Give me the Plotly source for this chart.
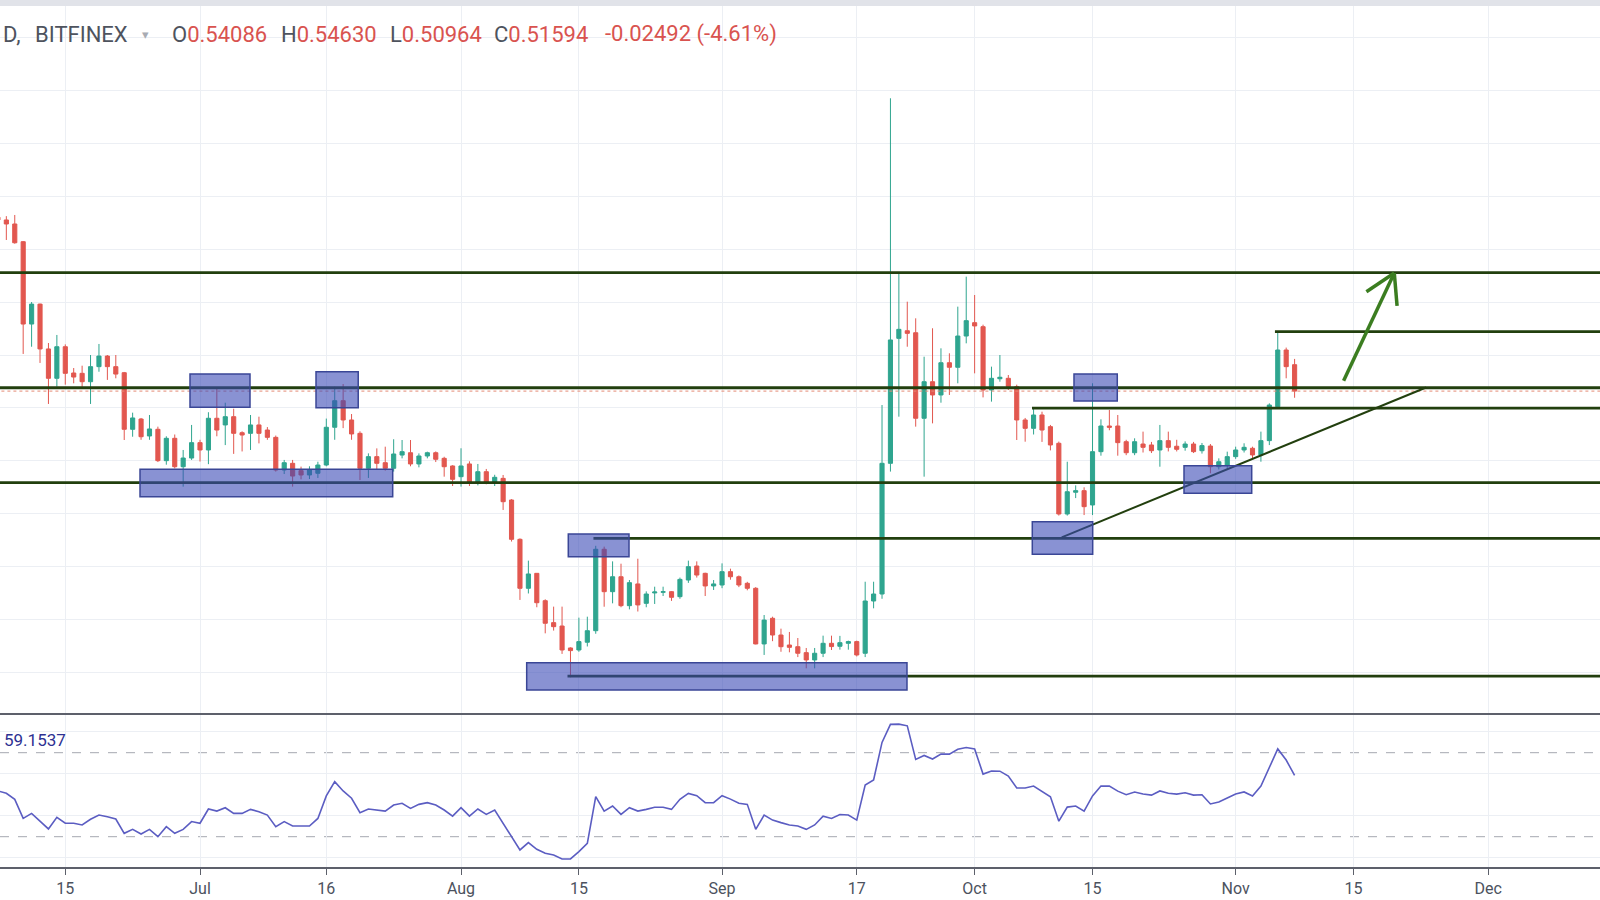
import pandas as pd
import plotly.graph_objects as go

# ---------------- data (daily XRP/USD, Bitfinex) ----------------
dates = pd.date_range("2018-06-07", "2018-11-08", freq="D")

open_ = [
    # Jun 7-30
    0.6800, 0.6774, 0.6736, 0.6569, 0.5792, 0.5980, 0.5557, 0.5280, 0.5578, 0.5330, 0.5327, 0.5248,
    0.5390, 0.5490, 0.5390, 0.5333, 0.4799, 0.4896, 0.4736, 0.4799, 0.4503, 0.4714, 0.4446, 0.4528,
    # Jul
    0.4673, 0.4604, 0.4903, 0.4840, 0.4918, 0.4767, 0.4761, 0.4840, 0.4792, 0.4723, 0.4415, 0.4478,
    0.4409, 0.4368, 0.4384, 0.4462, 0.4818, 0.5069, 0.4887, 0.4761, 0.4431, 0.4541, 0.4484, 0.4431,
    0.4556, 0.4578, 0.4472, 0.4547, 0.4578, 0.4525, 0.4453,
    # Aug
    0.4352, 0.4472, 0.4295, 0.4399, 0.4290, 0.4336, 0.4132, 0.3761, 0.3299, 0.3440, 0.3182, 0.2975,
    0.2943, 0.2736, 0.2717, 0.2790, 0.2899, 0.3667, 0.3267, 0.3408, 0.3135, 0.3340, 0.3157, 0.3255,
    0.3261, 0.3267, 0.3220, 0.3377, 0.3509, 0.3440, 0.3321,
    # Sep
    0.3330, 0.3456, 0.3408, 0.3346, 0.3299, 0.2774, 0.3016, 0.2858, 0.2764, 0.2748, 0.2692, 0.2623,
    0.2686, 0.2780, 0.2752, 0.2780, 0.2796, 0.2686, 0.3179, 0.3245, 0.4478, 0.5657, 0.5729, 0.5710,
    0.4903, 0.5248, 0.5123, 0.5427, 0.5384, 0.5679,
    # Oct
    0.5805, 0.5767, 0.5170, 0.5276, 0.5280, 0.5201, 0.4887, 0.4808, 0.4934, 0.4824, 0.4667, 0.4000,
    0.4205, 0.4220, 0.4085, 0.4588, 0.4830, 0.4830, 0.4682, 0.4578, 0.4660, 0.4651, 0.4604, 0.4692,
    0.4639, 0.4629, 0.4660, 0.4597, 0.4641, 0.4446, 0.4462,
    # Nov 1-8
    0.4541, 0.4604, 0.4620, 0.4557, 0.4692, 0.5012, 0.5547, 0.54086,
]

high = [
    0.6850, 0.6810, 0.6821, 0.6575, 0.6000, 0.5985, 0.5613, 0.5689, 0.5600, 0.5377, 0.5399, 0.5500,
    0.5604, 0.5500, 0.5500, 0.5340, 0.4956, 0.4906, 0.4934, 0.4824, 0.4733, 0.4750, 0.4604, 0.4840,
    0.4700, 0.4960, 0.5186, 0.5050, 0.4993, 0.4780, 0.4934, 0.4918, 0.4820, 0.4740, 0.4510, 0.4510,
    0.4447, 0.4450, 0.4493, 0.4900, 0.5201, 0.5226, 0.4943, 0.4780, 0.4572, 0.4619, 0.4635, 0.4705,
    0.4698, 0.4698, 0.4572, 0.4588, 0.4590, 0.4540, 0.4460,
    0.4620, 0.4497, 0.4472, 0.4425, 0.4370, 0.4368, 0.4140, 0.3770, 0.3560, 0.3443, 0.3195, 0.3126,
    0.3126, 0.2742, 0.3022, 0.3031, 0.3700, 0.3692, 0.3553, 0.3531, 0.3377, 0.3578, 0.3270, 0.3314,
    0.3314, 0.3273, 0.3400, 0.3560, 0.3553, 0.3446, 0.3377,
    0.3534, 0.3484, 0.3420, 0.3360, 0.3310, 0.3047, 0.3031, 0.2918, 0.2887, 0.2830, 0.2736, 0.2736,
    0.2852, 0.2852, 0.2850, 0.2805, 0.2805, 0.3361, 0.3361, 0.5028, 0.7922, 0.6270, 0.6003, 0.5846,
    0.5484, 0.5752, 0.5563, 0.5516, 0.5956, 0.6239,
    0.6066, 0.5786, 0.5390, 0.5500, 0.5311, 0.5220, 0.4906, 0.4997, 0.4965, 0.4840, 0.4683, 0.4493,
    0.4270, 0.4252, 0.5233, 0.4893, 0.4981, 0.4934, 0.4700, 0.4714, 0.4777, 0.4680, 0.4840, 0.4777,
    0.4700, 0.4685, 0.4680, 0.4670, 0.4660, 0.4525, 0.4588,
    0.4635, 0.4667, 0.4635, 0.4777, 0.5044, 0.5720, 0.5570, 0.54630,
]

low = [
    0.6720, 0.6585, 0.6550, 0.5510, 0.5578, 0.5425, 0.5038, 0.5201, 0.5220, 0.5233, 0.5200, 0.5038,
    0.5342, 0.5265, 0.5280, 0.4698, 0.4729, 0.4700, 0.4700, 0.4490, 0.4465, 0.4430, 0.4258, 0.4510,
    0.4495, 0.4470, 0.4733, 0.4650, 0.4567, 0.4590, 0.4604, 0.4666, 0.4700, 0.4400, 0.4377, 0.4258,
    0.4327, 0.4330, 0.4340, 0.4450, 0.4700, 0.4810, 0.4700, 0.4320, 0.4340, 0.4415, 0.4409, 0.4400,
    0.4525, 0.4450, 0.4440, 0.4525, 0.4490, 0.4352, 0.4264,
    0.4258, 0.4264, 0.4270, 0.4280, 0.4264, 0.4038, 0.3740, 0.3189, 0.3250, 0.3120, 0.2874, 0.2900,
    0.2680, 0.2459, 0.2700, 0.2750, 0.2870, 0.3125, 0.3157, 0.3120, 0.3100, 0.3080, 0.3120, 0.3151,
    0.3226, 0.3180, 0.3200, 0.3350, 0.3400, 0.3226, 0.3283,
    0.3300, 0.3380, 0.3310, 0.3280, 0.2770, 0.2670, 0.2800, 0.2700, 0.2695, 0.2650, 0.2544, 0.2544,
    0.2650, 0.2717, 0.2720, 0.2720, 0.2656, 0.2650, 0.3110, 0.3200, 0.4400, 0.4918, 0.5578, 0.4824,
    0.4352, 0.4855, 0.5050, 0.5123, 0.5233, 0.5610,
    0.5327, 0.5100, 0.5060, 0.5248, 0.5170, 0.4698, 0.4682, 0.4750, 0.4680, 0.4600, 0.3985, 0.3985,
    0.4150, 0.3990, 0.3990, 0.4550, 0.4790, 0.4550, 0.4555, 0.4555, 0.4580, 0.4575, 0.4446, 0.4590,
    0.4590, 0.4597, 0.4575, 0.4570, 0.4384, 0.4420, 0.4420,
    0.4520, 0.4580, 0.4520, 0.4493, 0.4650, 0.5000, 0.5280, 0.50964,
]

close = [
    0.6774, 0.6736, 0.6559, 0.5792, 0.5980, 0.5557, 0.5280, 0.5578, 0.5327, 0.5292, 0.5248, 0.5390,
    0.5490, 0.5390, 0.5320, 0.4799, 0.4906, 0.4729, 0.4802, 0.4503, 0.4714, 0.4446, 0.4528, 0.4673,
    0.4604, 0.4903, 0.4792, 0.4918, 0.4761, 0.4745, 0.4840, 0.4761, 0.4723, 0.4415, 0.4484, 0.4358,
    0.4368, 0.4415, 0.4462, 0.4818, 0.5069, 0.4887, 0.4755, 0.4431, 0.4541, 0.4478, 0.4431, 0.4566,
    0.4588, 0.4472, 0.4547, 0.4578, 0.4516, 0.4446, 0.4327,
    0.4453, 0.4289, 0.4399, 0.4295, 0.4346, 0.4116, 0.3761, 0.3299, 0.3434, 0.3163, 0.2969, 0.2937,
    0.2717, 0.2711, 0.2796, 0.2899, 0.3667, 0.3267, 0.3408, 0.3135, 0.3352, 0.3142, 0.3245, 0.3264,
    0.3267, 0.3214, 0.3383, 0.3503, 0.3424, 0.3321, 0.3340,
    0.3456, 0.3408, 0.3330, 0.3299, 0.2774, 0.2999, 0.2858, 0.2748, 0.2742, 0.2686, 0.2623, 0.2686,
    0.2780, 0.2749, 0.2786, 0.2796, 0.2670, 0.3179, 0.3245, 0.4478, 0.5642, 0.5742, 0.5704, 0.4903,
    0.5248, 0.5123, 0.5427, 0.5384, 0.5679, 0.5824,
    0.5774, 0.5170, 0.5280, 0.5290, 0.5201, 0.4887, 0.4808, 0.4934, 0.4792, 0.4651, 0.4000, 0.4210,
    0.4220, 0.4069, 0.4588, 0.4830, 0.4818, 0.4673, 0.4578, 0.4682, 0.4629, 0.4597, 0.4692, 0.4629,
    0.4610, 0.4660, 0.4588, 0.4645, 0.4446, 0.4493, 0.4541,
    0.4604, 0.4629, 0.4557, 0.4692, 0.5028, 0.5547, 0.5390, 0.51594,
]

rsi = [
    51.8, 50.7, 47.8, 38.7, 41.1, 37.2, 33.7, 39.2, 36.4, 36.4, 35.6, 38.3,
    40.3, 39.5, 38.4, 31.6, 33.5, 31.3, 33.5, 30.0, 34.8, 31.6, 33.5, 37.2,
    36.4, 43.2, 42.2, 43.8, 41.1, 41.1, 43.0, 41.9, 40.3, 34.8, 37.2, 35.1,
    35.1, 35.1, 38.7, 49.4, 56.2, 51.8, 48.3, 41.4, 43.2, 42.7, 42.2, 45.1,
    45.9, 43.5, 45.4, 46.2, 45.1, 42.7, 39.8,
    43.8, 39.8, 43.2, 40.6, 42.7, 36.4, 30.3, 23.7, 27.2, 24.0, 22.1, 21.3,
    19.4, 19.4, 22.9, 26.8, 49.1, 42.2, 44.6, 40.6, 43.8, 42.2, 43.0, 44.0,
    44.0, 43.0, 47.8, 50.6, 49.5, 46.2, 46.2,
    49.5, 47.9, 45.9, 45.4, 33.5, 40.3, 37.9, 36.7, 35.6, 35.1, 33.5, 35.6,
    39.8, 38.7, 40.6, 40.3, 37.9, 54.6, 57.0, 74.9, 83.5, 83.6, 82.8, 66.8,
    68.7, 67.0, 69.3, 69.3, 71.6, 72.5,
    71.8, 59.8, 61.3, 61.2, 58.9, 53.2, 53.2, 54.1, 51.7, 49.0, 37.4, 44.1,
    44.6, 42.2, 49.4, 54.1, 54.1, 51.7, 50.0, 51.3, 50.3, 49.8, 51.8, 50.7,
    50.3, 50.9, 49.8, 50.0, 45.6, 46.5, 48.4,
    50.3, 51.3, 49.4, 54.1, 63.1, 71.8, 66.5, 59.1537,
]

tick_dates = ["2018-06-15", "2018-07-01", "2018-07-16", "2018-08-01", "2018-08-15", "2018-09-01",
              "2018-09-17", "2018-10-01", "2018-10-15", "2018-11-01", "2018-11-15", "2018-12-01"]
tick_labels = ["15", "Jul", "16", "Aug", "15", "Sep", "17", "Oct", "15", "Nov", "15", "Dec"]

# horizontal support / resistance rays
level_prices = [0.6278, 0.5721, 0.5191, 0.4998, 0.4295, 0.3770, 0.2470]
level_starts = ["2018-06-01", "2018-11-05 16:00", "2018-06-01", "2018-10-07 19:30",
                "2018-06-01", "2018-08-16 17:30", "2018-08-13 15:30"]

# highlighted zones
box_x0 = ["2018-06-29 19:30", "2018-07-14 18:40", "2018-06-23 21:00", "2018-08-13 17:45",
          "2018-08-08 19:10", "2018-10-07 20:20", "2018-10-12 19:10", "2018-10-25 20:45"]
box_x1 = ["2018-07-06 22:30", "2018-07-19 19:00", "2018-07-23 21:15", "2018-08-20 22:50",
          "2018-09-22 23:10", "2018-10-15 00:30", "2018-10-17 22:35", "2018-11-02 21:45"]
box_y0 = [0.5007, 0.5003, 0.4163, 0.3597, 0.2340, 0.3620, 0.5066, 0.4195]
box_y1 = [0.5321, 0.5342, 0.4422, 0.3811, 0.2597, 0.3927, 0.5321, 0.4456]

trend_x = ["2018-10-11 08:10", "2018-11-23 14:40"]
trend_y = [0.3780, 0.5193]

arrow_tail = ("2018-11-13 19:40", 0.5258)
arrow_tip = ("2018-11-19 20:10", 0.6273)
arrow_barbs = [("2018-11-16 12:45", 0.6097), ("2018-11-20 04:05", 0.5964)]

last_close = close[-1]

# ---------------- styling ----------------
UP = "#2fa58f"
DN = "#e2574f"
LEVEL = "#223f0e"
RSI_C = "#5b5dc2"
GRID = "#eceff4"

W, H = 1600, 900
main_top, main_bot, rsi_bot = 5, 714, 867
x_range = ["2018-06-07 05:55", "2018-12-14 06:30"]

fig = go.Figure()
fig.add_trace(go.Candlestick(
    x=dates, open=open_, high=high, low=low, close=close,
    increasing=dict(line=dict(color=UP, width=1), fillcolor=UP),
    decreasing=dict(line=dict(color=DN, width=1), fillcolor=DN),
    whiskerwidth=0, showlegend=False, hoverinfo="skip",
    xaxis="x", yaxis="y"))
fig.add_trace(go.Scatter(
    x=dates, y=rsi, mode="lines", line=dict(color=RSI_C, width=1.6),
    showlegend=False, hoverinfo="skip", xaxis="x", yaxis="y2"))

shapes = []
# top grey band
shapes.append(dict(type="rect", xref="paper", yref="paper", x0=0, x1=1, y0=1 - 6 / H, y1=1,
                   fillcolor="#e1e3e9", line=dict(width=0), layer="above"))
# RSI guide lines
for v in (70, 30):
    shapes.append(dict(type="line", xref="paper", yref="y2", x0=0, x1=1, y0=v, y1=v,
                       line=dict(color="#a5a8b0", width=1, dash="dash"), layer="below"))
# close price dotted line
shapes.append(dict(type="line", xref="x", yref="y", x0="2018-06-01", x1="2018-12-31",
                   y0=last_close, y1=last_close, line=dict(color="#e58a74", width=1, dash="dot")))
# levels
for p, s in zip(level_prices, level_starts):
    shapes.append(dict(type="line", xref="x", yref="y", x0=s, x1="2018-12-31", y0=p, y1=p,
                       line=dict(color=LEVEL, width=2.8)))
# trend line
shapes.append(dict(type="line", xref="x", yref="y", x0=trend_x[0], x1=trend_x[1],
                   y0=trend_y[0], y1=trend_y[1], line=dict(color=LEVEL, width=2)))
# boxes
for a, b, c, d in zip(box_x0, box_x1, box_y0, box_y1):
    shapes.append(dict(type="rect", xref="x", yref="y", x0=a, x1=b, y0=c, y1=d,
                       fillcolor="rgba(58,74,182,0.6)", line=dict(color="#3a4696", width=1.5)))
# arrow
shapes.append(dict(type="line", xref="x", yref="y", x0=arrow_tail[0], y0=arrow_tail[1],
                   x1=arrow_tip[0], y1=arrow_tip[1], line=dict(color="#3b7d20", width=3.5)))
for bx, by in arrow_barbs:
    shapes.append(dict(type="line", xref="x", yref="y", x0=bx, y0=by,
                       x1=arrow_tip[0], y1=arrow_tip[1], line=dict(color="#3b7d20", width=3.5)))
# pane separator
shapes.append(dict(type="line", xref="paper", yref="paper", x0=0, x1=1,
                   y0=1 - main_bot / H, y1=1 - main_bot / H, line=dict(color="#5d606b", width=2)))

RED = "#d9534f"
GREY = "#4e535e"
FONT = "Roboto"
hy = 1 - 34 / H
ann = [
    dict(text="D,", x=1 / W, color=GREY, size=22),
    dict(text="BITFINEX", x=33 / W, color=GREY, size=22),
    dict(text="▾", x=140 / W, color="#a8abb3", size=13),
    dict(text=f"O<span style='color:{RED}'>0.54086</span>", x=170 / W, color=GREY, size=22),
    dict(text=f"H<span style='color:{RED}'>0.54630</span>", x=279 / W, color=GREY, size=22),
    dict(text=f"L<span style='color:{RED}'>0.50964</span>", x=388 / W, color=GREY, size=22),
    dict(text=f"C<span style='color:{RED}'>0.51594</span>", x=492 / W, color=GREY, size=22),
    dict(text="-0.02492 (-4.61%)", x=603 / W, color=RED, size=22),
]
annotations = []
for a in ann:
    annotations.append(dict(text=a["text"], x=a["x"], y=hy, xref="paper", yref="paper",
                            xanchor="left", yanchor="middle", showarrow=False,
                            font=dict(family=FONT, size=a["size"], color=a["color"])))
annotations.append(dict(text="59.1537", x=2 / W, y=1 - 740 / H, xref="paper", yref="paper",
                        xanchor="left", yanchor="middle", showarrow=False,
                        font=dict(family=FONT, size=17, color="#2e3192")))

fig.update_layout(
    width=W, height=H, margin=dict(l=0, r=0, t=0, b=0),
    paper_bgcolor="white", plot_bgcolor="white",
    shapes=shapes, annotations=annotations, showlegend=False,
    xaxis=dict(type="date", range=x_range, anchor="y2", rangeslider=dict(visible=False),
               tickvals=tick_dates, ticktext=tick_labels, showgrid=True, gridcolor=GRID,
               showline=True, linecolor="#5d606b", linewidth=2, ticks="outside", ticklen=6,
               tickcolor="#5d606b", tickfont=dict(family=FONT, size=16, color="#4c525e"),
               zeroline=False, fixedrange=True),
    yaxis=dict(domain=[1 - main_bot / H, 1 - main_top / H], range=[0.2113, 0.8802],
               tick0=0, dtick=0.05, showticklabels=False, showgrid=True, gridcolor=GRID,
               zeroline=False, showline=False, fixedrange=True),
    yaxis2=dict(domain=[1 - rsi_bot / H, 1 - main_bot / H], range=[15.57, 88.43],
                tickvals=[20, 40, 60, 80], showticklabels=False, showgrid=True, gridcolor=GRID,
                zeroline=False, showline=False, fixedrange=True),
)

fig.write_html("out.html")
